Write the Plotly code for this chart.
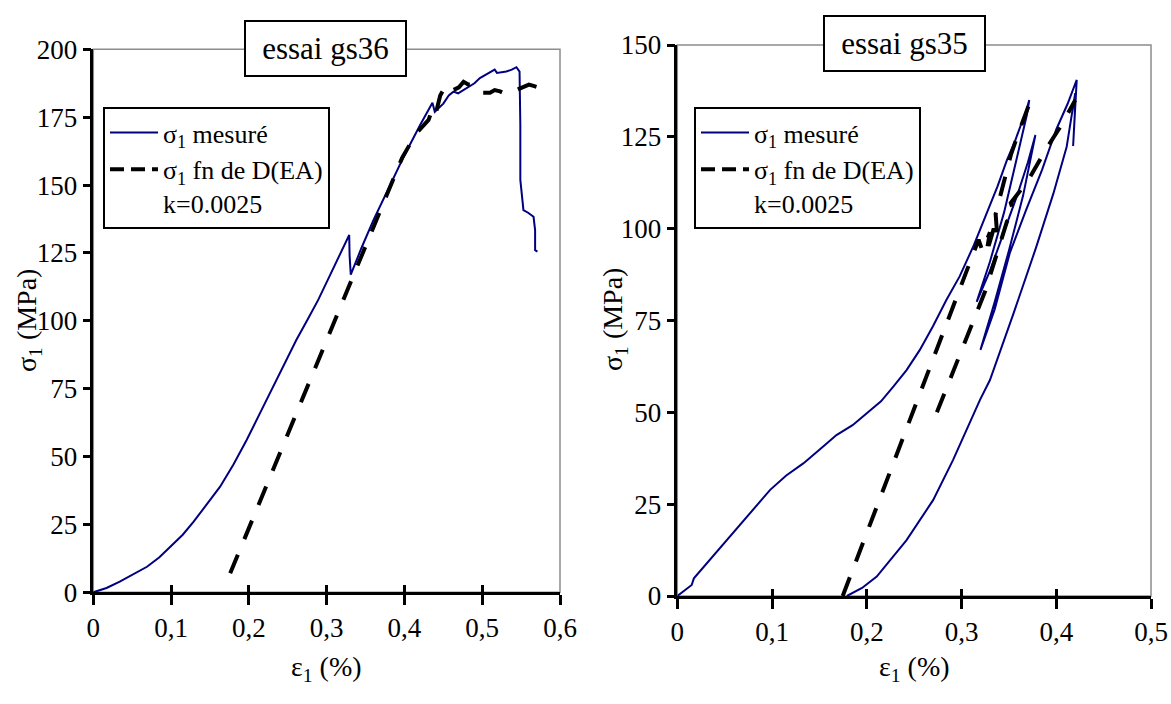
import plotly.graph_objects as go

# ---------------- data : essai gs36 ----------------
eps36_mes = [0, 0.017, 0.034, 0.05, 0.069, 0.085, 0.099, 0.115, 0.129, 0.145, 0.163, 0.18, 0.197,
             0.214, 0.231, 0.246, 0.261, 0.275, 0.289, 0.303, 0.316, 0.329, 0.3295, 0.331, 0.345,
             0.36, 0.38, 0.40, 0.42, 0.436, 0.439, 0.445, 0.45, 0.457, 0.463, 0.469, 0.48, 0.49,
             0.497, 0.507, 0.516, 0.519, 0.525, 0.531, 0.538, 0.544, 0.548, 0.549, 0.549, 0.553,
             0.559, 0.566, 0.568, 0.568, 0.571]
sig36_mes = [0, 1.6, 3.9, 6.4, 9.4, 12.9, 16.8, 21.2, 26, 32, 38.9, 47, 56,
             65.8, 75.7, 84.4, 92.9, 100.2, 107.6, 116, 124, 131.6, 124, 117, 127,
             137, 149, 161, 172, 180.3, 177, 178.5, 180, 183, 184.4, 183.8, 185.6, 187.5,
             189.4, 191, 192.5, 191.3, 191.5, 191.8, 192.5, 193.4, 191.8, 172, 151.9, 140.8,
             139.8, 138.3, 133.4, 126, 125.5]
eps36_fn = [0.176, 0.25, 0.32, 0.397, 0.415, 0.431, 0.436, 0.44, 0.446, 0.452, 0.456, 0.463, 0.47,
            0.476, 0.482, 0.487, 0.491, 0.5, 0.51, 0.516, 0.523, 0.53, 0.54, 0.551, 0.56, 0.566, 0.572]
sig36_fn = [7, 58, 106.5, 160, 169, 174, 178, 176, 183, 186, 187, 185, 186,
            188, 187, 187, 185, 184, 184, 185, 184.5, 183.5, 184.5, 186, 187, 186.5, 186]

# ---------------- data : essai gs35 ----------------
eps35_mes = [0, 0.008, 0.0152, 0.0175, 0.03, 0.052, 0.075, 0.098, 0.115, 0.133, 0.15, 0.168, 0.185,
             0.2, 0.215, 0.228, 0.242, 0.256, 0.27, 0.284, 0.298, 0.313, 0.327, 0.338, 0.348, 0.356,
             0.362, 0.367, 0.3715,
             0.369, 0.36, 0.345, 0.33, 0.316,
             0.33, 0.345, 0.36, 0.37, 0.378,
             0.365, 0.35, 0.335, 0.32,
             0.335, 0.351, 0.368, 0.385, 0.40, 0.412, 0.4216,
             0.4178, 0.4195, 0.42,
             0.411, 0.397, 0.379, 0.355, 0.330, 0.3195, 0.291, 0.270, 0.242, 0.2105, 0.195, 0.179]
sig35_mes = [0, 1.6, 3.0, 4.8, 8.5, 15.2, 22, 28.9, 32.8, 36.1, 39.8, 43.8, 46.5,
             49.7, 53, 57, 61.5, 67, 73.5, 80.6, 87, 95.5, 104.2, 111.5, 118.7, 123.5,
             127.8, 131, 135,
             131, 121, 104.5, 91, 80.1,
             88.5, 99, 110, 118, 125.5,
             109, 94, 80, 67,
             78, 93.4, 105, 116, 127, 134, 140.5,
             122.5, 131, 136.9,
             122.3, 109.6, 95.1, 77, 58.8, 53.4, 37, 26.1, 15.2, 5.3, 2.2, 0]
eps35_fn = [0.1746, 0.31, 0.318, 0.322, 0.33, 0.326, 0.334, 0.338, 0.336, 0.343, 0.352, 0.36, 0.366,
            0.372, 0.376, None,
            0.274, 0.30, 0.325, 0.348, 0.356, 0.352, 0.358, 0.37, 0.39, 0.405, 0.42]
sig35_fn = [0, 92, 97, 94, 99, 93, 100, 97, 104, 111, 120, 126, 130,
            134, 137, None,
            50, 67, 83, 102, 104, 107, 109, 113, 122, 128, 135]

# ---------------- ticks & texts ----------------
x_ticks_36 = [0, 0.1, 0.2, 0.3, 0.4, 0.5, 0.6]
x_labels_36 = ["0", "0,1", "0,2", "0,3", "0,4", "0,5", "0,6"]
y_ticks_36 = [0, 25, 50, 75, 100, 125, 150, 175, 200]
x_ticks_35 = [0, 0.1, 0.2, 0.3, 0.4, 0.5]
x_labels_35 = ["0", "0,1", "0,2", "0,3", "0,4", "0,5"]
y_ticks_35 = [0, 25, 50, 75, 100, 125, 150]
titles = ["essai gs36", "essai gs35"]
name_mes = "σ<sub>1</sub> mesuré"
name_fn = "σ<sub>1</sub> fn de D(EA)<br>k=0.0025"
x_title = "ε<sub>1</sub> (%)"
y_title = "σ<sub>1</sub> (MPa)"

FONT = "Liberation Serif, Times New Roman, serif"
BLUE = "#000080"
W, H = 1171, 704

fig = go.Figure()

# left panel
fig.add_trace(go.Scatter(x=eps36_mes, y=sig36_mes, mode="lines", name=name_mes,
                         line=dict(color=BLUE, width=2), xaxis="x", yaxis="y", legend="legend"))
fig.add_trace(go.Scatter(x=eps36_fn, y=sig36_fn, mode="lines", showlegend=False,
                         line=dict(color="black", width=4, dash="20px,17px"), xaxis="x", yaxis="y"))
fig.add_trace(go.Scatter(x=[None], y=[None], mode="lines", name=name_fn,
                         line=dict(color="black", width=4, dash="14px,7px"),
                         xaxis="x3", yaxis="y", legend="legend", hoverinfo="skip"))
# right panel
fig.add_trace(go.Scatter(x=eps35_mes, y=sig35_mes, mode="lines", name=name_mes,
                         line=dict(color=BLUE, width=2), xaxis="x2", yaxis="y2", legend="legend2"))
fig.add_trace(go.Scatter(x=eps35_fn, y=sig35_fn, mode="lines", showlegend=False, connectgaps=False,
                         line=dict(color="black", width=4, dash="20px,17px"), xaxis="x2", yaxis="y2"))
fig.add_trace(go.Scatter(x=[None], y=[None], mode="lines", name=name_fn,
                         line=dict(color="black", width=4, dash="14px,7px"),
                         xaxis="x4", yaxis="y2", legend="legend2", hoverinfo="skip"))

tickfont = dict(family=FONT, size=27, color="black")

def main_x(dom, rng, tv, tt, anchor):
    return dict(domain=dom, range=rng, tickvals=tv, ticktext=tt, ticks="outside", ticklen=10,
                tickwidth=2.5, tickcolor="black", showline=True, linecolor="black", linewidth=2.5,
                showgrid=False, zeroline=False, anchor=anchor, tickfont=tickfont, automargin=False,
                fixedrange=True)

def main_y(dom, rng, tv, anchor):
    return dict(domain=dom, range=rng, tickvals=tv, ticks="outside", ticklen=8,
                tickwidth=2.5, tickcolor="black", showline=True, linecolor="black", linewidth=2.5,
                showgrid=False, zeroline=False, anchor=anchor, tickfont=tickfont, automargin=False,
                fixedrange=True)

def over_x(over, rng, tv, anchor):
    return dict(overlaying=over, range=rng, tickvals=tv, ticks="inside", ticklen=7, tickwidth=2.5,
                tickcolor="black", showticklabels=False, showline=False, showgrid=False,
                zeroline=False, anchor=anchor, side="bottom", fixedrange=True)

xd36 = [93.3 / W, 560 / W]
yd36 = [1 - 592.3 / H, 1 - 49.3 / H]
xd35 = [677.3 / W, 1151 / W]
yd35 = [1 - 596 / H, 1 - 45 / H]

legend_common = dict(xanchor="left", yanchor="top", bgcolor="white", bordercolor="black",
                     borderwidth=2, font=dict(family=FONT, size=26, color="black"),
                     valign="top", tracegroupgap=0, itemwidth=48)

fig.update_layout(
    width=W, height=H,
    margin=dict(l=0, r=0, t=0, b=0, pad=0),
    paper_bgcolor="white", plot_bgcolor="white",
    template="none",
    font=dict(family=FONT, size=26, color="black"),
    xaxis=main_x(xd36, [0, 0.6], x_ticks_36, x_labels_36, "y"),
    yaxis=main_y(yd36, [0, 200], y_ticks_36, "x"),
    xaxis2=main_x(xd35, [0, 0.5], x_ticks_35, x_labels_35, "y2"),
    yaxis2=main_y(yd35, [0, 150], y_ticks_35, "x2"),
    xaxis3=over_x("x", [0, 0.6], x_ticks_36, "y"),
    xaxis4=over_x("x2", [0, 0.5], x_ticks_35, "y2"),
    legend=dict(x=103 / W, y=1 - 107 / H, **legend_common),
    legend2=dict(x=694 / W, y=1 - 107 / H, **legend_common),
    showlegend=True,
)

# gray frame (top and right sides)
for xr, yr in (("x", "y"), ("x2", "y2")):
    fig.add_shape(type="rect", xref=f"{xr} domain", yref=f"{yr} domain", x0=0, x1=1, y0=0, y1=1,
                  line=dict(color="#8c8c8c", width=1.5), layer="below")

# title boxes
for txt, cx, cy in ((titles[0], 325.5, 48.5), (titles[1], 904, 43.5)):
    fig.add_annotation(text=txt, x=cx / W, y=1 - cy / H, xref="paper", yref="paper",
                       xanchor="center", yanchor="middle", showarrow=False,
                       font=dict(family=FONT, size=31, color="black"),
                       bgcolor="white", bordercolor="black", borderwidth=2, borderpad=2,
                       width=155, height=49)

# axis titles
for cx in (326.6, 914):
    fig.add_annotation(text=x_title, x=cx / W, y=1 - 668 / H, xref="paper", yref="paper",
                       xanchor="center", yanchor="middle", showarrow=False,
                       font=dict(family=FONT, size=28, color="black"))
for cx in (28, 614):
    fig.add_annotation(text=y_title, x=cx / W, y=1 - 320 / H, xref="paper", yref="paper",
                       xanchor="center", yanchor="middle", showarrow=False, textangle=-90,
                       font=dict(family=FONT, size=28, color="black"))

fig.write_html("out.html", config={"displayModeBar": False},
               post_script="document.body.style.margin='0';")
